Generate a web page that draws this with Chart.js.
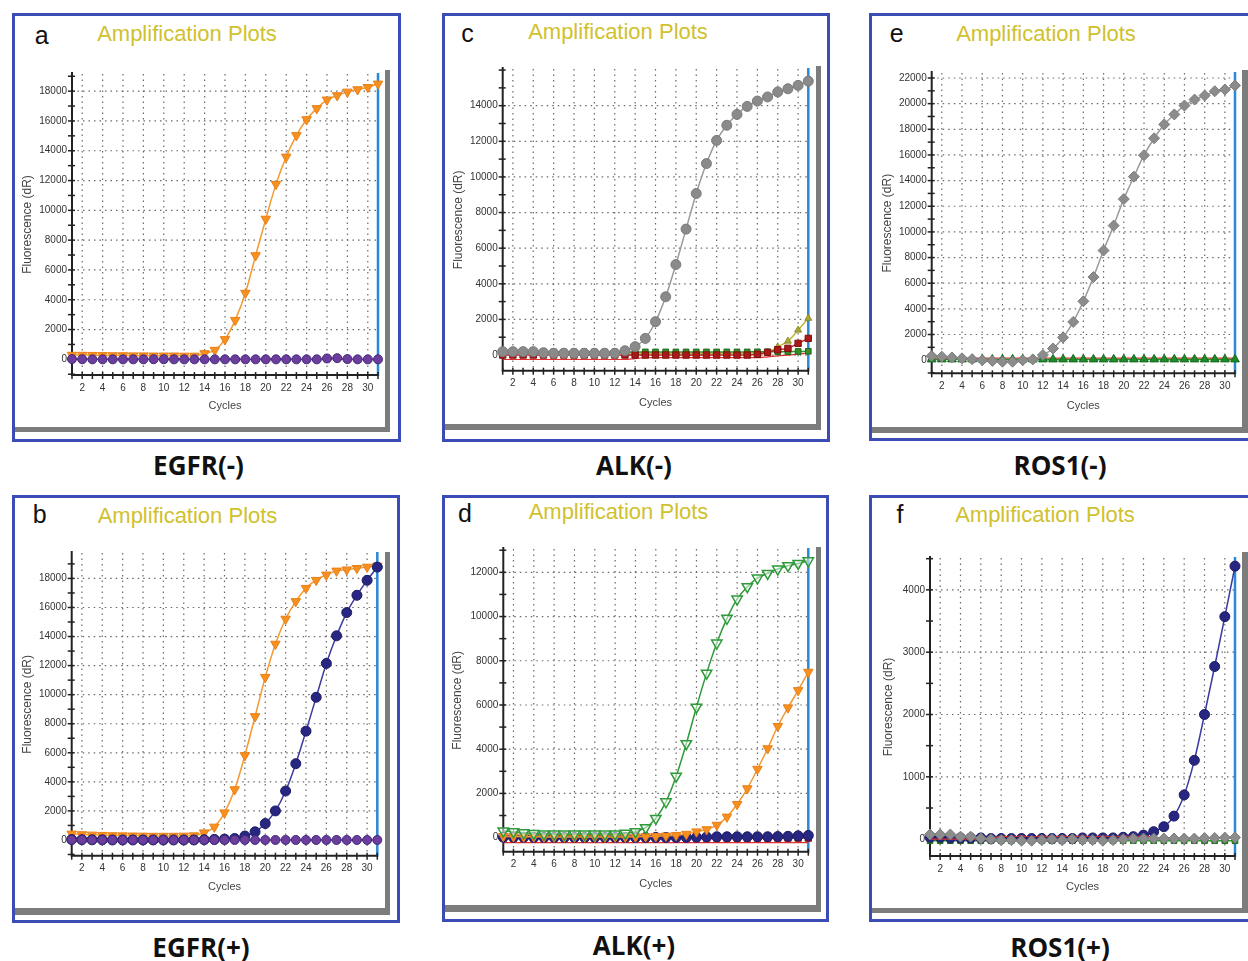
<!DOCTYPE html>
<html><head><meta charset="utf-8">
<script src="https://cdn.jsdelivr.net/npm/chart.js@4.4.1/dist/chart.umd.min.js"></script>
<style>
body{margin:0;background:#fff;}
#root{position:relative;width:1248px;height:961px;overflow:hidden;background:#fff;font-family:"Liberation Sans",Arial,sans-serif;}
.frame{position:absolute;border:3px solid #3b4db5;box-sizing:border-box;}
.shadow{position:absolute;background:#7c7c7c;}
.letter{position:absolute;font-size:25px;color:#111;line-height:1;transform:translate(-50%,-50%);}
.ttl{position:absolute;font-size:22px;color:#d0c12e;white-space:nowrap;transform:translate(-50%,-50%);line-height:1;}
.cap{position:absolute;font-family:"Open Sans",sans-serif;font-weight:700;font-size:26px;color:#111;transform:translate(-50%,-50%);white-space:nowrap;line-height:1;}
canvas{position:absolute;}
</style></head>
<body><div id="root"></div>
<script>
// ---------------- DATA ----------------
const cycles = [1,2,3,4,5,6,7,8,9,10,11,12,13,14,15,16,17,18,19,20,21,22,23,24,25,26,27,28,29,30,31];
const xTickLabels = [2,4,6,8,10,12,14,16,18,20,22,24,26,28,30];

// a  EGFR(-)
const egfrNegOrange = [290,290,280,270,260,260,250,250,240,240,240,230,230,400,620,1340,2630,4450,6970,9420,11760,13590,15030,16100,16840,17420,17710,17950,18110,18260,18490];
const egfrNegPurple = [20,10,0,0,0,0,0,0,10,10,0,0,0,0,0,0,0,0,0,0,0,0,0,0,0,60,80,20,0,0,0];
const yLabelsA = [0,2000,4000,6000,8000,10000,12000,14000,16000,18000];

// b  EGFR(+)
const egfrPosOrange = [420,380,350,330,310,300,290,280,270,270,270,280,300,500,900,1880,3470,5820,8500,11200,13490,15210,16420,17330,17880,18250,18520,18600,18700,18790,18860];
const egfrPosNavy = [30,20,10,10,0,0,0,0,0,0,0,0,0,20,40,60,100,270,560,1130,2000,3370,5250,7490,9820,12150,14050,15650,16840,17870,18780];
const egfrPosPurple = [10,10,0,0,0,0,0,0,0,0,0,0,0,0,0,0,0,0,0,0,0,0,0,0,0,0,0,0,0,0,0];
const yLabelsB = [0,2000,4000,6000,8000,10000,12000,14000,16000,18000];

// c  ALK(-)
const alkNegGray = [190,190,190,190,130,100,100,100,100,100,100,100,240,470,935,1870,3270,5080,7070,9070,10750,12050,12900,13510,13960,14260,14490,14770,14950,15140,15380];
const alkNegOlive = [100,100,100,100,100,100,100,100,100,100,100,100,100,100,100,100,100,100,100,100,100,100,100,100,110,120,150,465,780,1400,2060];
const alkNegDarkRed = [0,0,0,0,0,0,0,0,0,0,0,0,0,0,0,0,0,0,0,0,0,0,0,0,0,40,150,300,375,655,935];
const alkNegGreen = [190,185,185,180,180,180,175,175,175,175,175,175,175,175,175,175,175,175,175,175,175,175,175,175,175,180,180,185,190,200,210];
const alkNegRed = [-250,-250,-250,-250,-250,-250,-250,-250,-250,-250,-250,-250,-250,-200,-150,-150,-150,-150,-150,-150,-150,-150,-150,-150,-150,-150,-100,-50,0,50,100];
const yLabelsC = [0,2000,4000,6000,8000,10000,12000,14000];

// d  ALK(+)
const alkPosGreen = [300,270,220,190,170,160,160,160,160,160,160,170,200,270,450,870,1620,2780,4250,5900,7440,8800,9920,10790,11350,11740,11950,12150,12300,12400,12520];
const alkPosOrange = [60,50,40,40,30,30,30,30,30,30,30,30,30,40,50,60,80,110,160,270,370,570,940,1510,2220,3100,4030,5040,5880,6660,7490];
const alkPosNavy = [20,20,20,10,10,10,10,10,10,10,10,10,10,10,10,10,10,10,10,20,30,40,40,40,40,40,40,50,60,80,100];
const alkPosDarkRed = [-20,-20,-20,-20,-20,-20,-20,-20,-20,-20,-20,-20,-20,-20,-20,-20,-20,-20,-20,-20,-20,-20,-20,-20,-20,-20,-20,-20,-20,-20,-20];
const alkPosRed = [-230,-230,-230,-230,-230,-230,-230,-230,-230,-230,-230,-230,-230,-230,-230,-230,-230,-230,-230,-230,-230,-230,-230,-230,-230,-230,-230,-230,-230,-230,-230];
const yLabelsD = [0,2000,4000,6000,8000,10000,12000];

// e  ROS1(-)
const rosNegGray = [320,270,210,140,80,0,-60,-120,-120,0,60,400,910,1770,2980,4590,6480,8550,10490,12560,14310,15980,17300,18380,19160,19850,20320,20630,20970,21100,21410];
const rosNegGreen = [60,60,60,60,60,60,60,60,60,60,60,60,60,60,60,60,60,60,60,60,60,60,60,60,60,60,60,60,60,60,60];
const rosNegRed = [160,160,160,160,160,160,160,160,160,160,160,160,160,160,160,160,160,160,160,160,160,160,160,160,160,160,160,160,160,160,160];
const yLabelsE = [0,2000,4000,6000,8000,10000,12000,14000,16000,18000,20000,22000];

// f  ROS1(+)
const rosPosNavy = [30,30,20,20,20,20,10,10,10,10,10,10,10,10,10,20,20,20,20,30,40,65,120,200,370,710,1265,2000,2770,3570,4380];
const rosPosGray = [75,75,75,40,40,12,0,-15,-15,-25,-25,-15,0,-15,0,-15,-15,-25,-15,0,10,10,10,10,10,10,10,20,20,25,28];
const rosPosGreen = [-25,-25,-25,-25,-25,-25,-25,-25,-25,-25,-25,-25,-25,-25,-25,-25,-25,-25,-25,-25,-25,-25,-25,-25,-25,-25,-25,-25,-25,-25,-25];
const rosPosRed = [0,0,0,0,0,0,0,50,30,55,30,55,30,55,30,55,30,55,30,55,30,55,30,20,20,20,20,20,20,20,20];
const yLabelsF = [0,1000,2000,3000,4000];

// ---------------- STYLES ----------------
const ORANGE = {borderColor:'#f39a30', pointBackgroundColor:'#f7901e', pointBorderColor:'#e8801a', pointStyle:'triangle', pointRotation:180, pointRadius:5.5};
const PURPLE = {borderColor:'#7a48a8', pointBackgroundColor:'#6d3d9e', pointBorderColor:'#3f2a78', pointStyle:'circle', pointRadius:4.5};
const NAVY = {borderColor:'#3d3aa0', pointBackgroundColor:'#272782', pointBorderColor:'#1b1a66', pointStyle:'circle', pointRadius:5};
const GRAYC = {borderColor:'#9a9a9a', pointBackgroundColor:'#8a8a8a', pointBorderColor:'#7a7a7a', pointStyle:'circle', pointRadius:5};
const GRAYD = {borderColor:'#9a9a9a', pointBackgroundColor:'#8c8c8c', pointBorderColor:'#7c7c7c', pointStyle:'rectRot', pointRadius:5.5};
const GREENOPEN = {borderColor:'#2f9a3a', pointBackgroundColor:'rgba(255,255,255,0.5)', pointBorderColor:'#2f9a3a', pointStyle:'triangle', pointRotation:180, pointRadius:6, pointBorderWidth:1.5};
const OLIVE = {borderColor:'#c2b53a', pointBackgroundColor:'#a9a838', pointBorderColor:'#8f8e2a', pointStyle:'triangle', pointRadius:4};
const DARKRED = {borderColor:'#c22424', pointBackgroundColor:'#a81a1a', pointBorderColor:'#801010', pointStyle:'rect', pointRadius:4.5};
const GREENSQ = {borderColor:'#2a9a2a', pointBackgroundColor:'#3a8a2a', pointBorderColor:'#1e6a1e', pointStyle:'rect', pointRadius:4};
const GREENTRI = {borderColor:'#25902a', pointBackgroundColor:'#1e8a2a', pointBorderColor:'#146a1e', pointStyle:'triangle', pointRadius:5};
const REDLINE = {borderColor:'#e03030', pointRadius:0, borderWidth:1.2};

function ds(values, st){
  return Object.assign({
    data: cycles.map((c,i)=>({x:c, y:values[i]})),
    borderWidth:1.5, pointRadius:4.5, pointBorderWidth:1,
    cubicInterpolationMode:'monotone', clip:false, fill:false
  }, st);
}

// ---------------- LAYOUT ----------------
const panels = [
  {frame:[12,13,401,442], shR:[385,70,5,362], shB:[15,427,375,5], letter:['a',41.7,34.6], title:[187,34.1], cap:['EGFR(-)',198.5,465],
   plot:[72,73,378,375], yT:27, xT:406, y:[-1050,19150], minor:1000, labels:yLabelsA,
   sets:[ds(egfrNegPurple,PURPLE), ds(egfrNegOrange,ORANGE)]},
  {frame:[12,495,400,923], shR:[385,552,5,363], shB:[15,908,375,7], letter:['b',39.7,514.3], title:[187.5,515.7], cap:['EGFR(+)',201,946.6],
   plot:[71.7,551.7,377.3,855.7], yT:26.7, xT:887.3, y:[-1083,19750], minor:1000, labels:yLabelsB,
   sets:[ds(egfrPosPurple,PURPLE), ds(egfrPosNavy,NAVY), ds(egfrPosOrange,ORANGE)]},
  {frame:[442,13,830,442], shR:[816,66,5,364], shB:[445,424,376,6], letter:['c',467.5,33], title:[618,31.7], cap:['ALK(-)',634,465],
   plot:[502.7,68.3,808.3,370.7], yT:458.3, xT:403.3, y:[-880,16060], minor:1000, labels:yLabelsC,
   sets:[ds(alkNegGray,GRAYC), ds(alkNegDarkRed,DARKRED), ds(alkNegGreen,GREENSQ), ds(alkNegOlive,OLIVE), ds(alkNegRed,REDLINE)]},
  {frame:[442,495,829,922], shR:[816,547,5,365], shB:[445,905,376,7], letter:['d',465,513], title:[618.5,512.4], cap:['ALK(+)',634,945],
   plot:[503.3,548.3,808.3,851.7], yT:456.7, xT:884.3, y:[-636,13055], minor:1000, labels:yLabelsD,
   sets:[ds(alkPosGreen,GREENOPEN), ds(alkPosOrange,ORANGE), ds(alkPosNavy,NAVY), ds(alkPosDarkRed,DARKRED), ds(alkPosRed,REDLINE)]},
  {frame:[869,13,1262,441], shR:[1242,70,6,363], shB:[872,427,376,6], letter:['e',896.7,33], title:[1046,34.1], cap:['ROS1(-)',1060,465],
   plot:[931.7,71.7,1235,373.3], yT:886.7, xT:406, y:[-1025,22390], minor:1000, labels:yLabelsE,
   sets:[ds(rosNegGray,GRAYD), ds(rosNegGreen,GREENTRI), ds(rosNegRed,REDLINE)]},
  {frame:[869,495,1262,922], shR:[1242,552,6,361], shB:[872,908,376,5], letter:['f',900,514], title:[1045,515.1], cap:['ROS1(+)',1060,946.6],
   plot:[930,557.3,1235,856], yT:888.3, xT:887.3, y:[-270,4511], minor:500, labels:yLabelsF,
   sets:[ds(rosPosGray,GRAYD), ds(rosPosRed,REDLINE), ds(rosPosNavy,NAVY), ds(rosPosGreen,GREENSQ)]}
];

const root = document.getElementById('root');
function box(cls, l, t, w, h){ const d=document.createElement('div'); d.className=cls; d.style.left=l+'px'; d.style.top=t+'px'; if(w!=null){d.style.width=w+'px'; d.style.height=h+'px';} root.appendChild(d); return d; }

const deco = {
  id:'deco',
  beforeDatasetsDraw(chart, args, o){
    const {ctx, chartArea:{left,right,top,bottom}, scales:{x,y}} = chart;
    ctx.save();
    // dotted grid
    ctx.strokeStyle = '#6a6a6a'; ctx.lineWidth = 1.2; ctx.setLineDash([1.5,4]);
    xTickLabels.forEach(v=>{ const px=x.getPixelForValue(v); ctx.beginPath(); ctx.moveTo(px,top); ctx.lineTo(px,bottom); ctx.stroke(); });
    o.labels.forEach(v=>{ const py=y.getPixelForValue(v); ctx.beginPath(); ctx.moveTo(left,py); ctx.lineTo(right,py); ctx.stroke(); });
    ctx.setLineDash([]);
    // blue end line
    const bx = x.getPixelForValue(31);
    ctx.strokeStyle='#2a88d8'; ctx.lineWidth=2.5;
    ctx.beginPath(); ctx.moveTo(bx, top-1); ctx.lineTo(bx, bottom+1); ctx.stroke();
    // axes
    ctx.strokeStyle='#222'; ctx.lineWidth=2;
    ctx.beginPath(); ctx.moveTo(left, top-2); ctx.lineTo(left, bottom+1); ctx.moveTo(left, bottom); ctx.lineTo(right, bottom); ctx.stroke();
    // tick marks crossing the axes
    ctx.lineWidth=1.5;
    cycles.forEach(v=>{ const px=x.getPixelForValue(v); ctx.beginPath(); ctx.moveTo(px,bottom-3); ctx.lineTo(px,bottom+4); ctx.stroke(); });
    y.ticks.forEach(t=>{ const py=y.getPixelForValue(t.value); if(py<top-1||py>bottom) return; ctx.beginPath(); ctx.moveTo(left-4,py); ctx.lineTo(left+3,py); ctx.stroke(); });
    ctx.restore();
  }
};

panels.forEach(p=>{
  const [fl,ft,fr,fb] = p.frame;
  box('frame', fl, ft, fr-fl, fb-ft);
  box('shadow', p.shR[0], p.shR[1], p.shR[2], p.shR[3]);
  box('shadow', p.shB[0], p.shB[1], p.shB[2], p.shB[3]);
  const le = box('letter', p.letter[1], p.letter[2]); le.textContent = p.letter[0];
  const ti = box('ttl', p.title[0], p.title[1]); ti.textContent = 'Amplification Plots';
  const ca = box('cap', p.cap[1], p.cap[2]); ca.textContent = p.cap[0];

  const [L,T,R,B] = p.plot;
  const cl = Math.round(p.yT - 7.2), ct = Math.round(T - 10), cr = Math.round(R + 14), cb = Math.round(p.xT + 6.6);
  const cv = document.createElement('canvas');
  cv.width = cr-cl; cv.height = cb-ct;
  cv.style.left = cl+'px'; cv.style.top = ct+'px';
  cv.style.width = (cr-cl)+'px'; cv.style.height = (cb-ct)+'px';
  root.appendChild(cv);
  const yW = L - cl, xH = cb - B, padTop = T - ct, padRight = cr - R;
  const minorVals = [];
  for (let v = Math.ceil(p.y[0]/p.minor)*p.minor; v <= p.y[1]; v += p.minor) minorVals.push(v);

  new Chart(cv, {
    type:'line',
    data:{datasets:p.sets},
    options:{
      responsive:false, animation:false, devicePixelRatio:1,
      layout:{padding:{left:0, top:padTop, right:padRight, bottom:0}},
      plugins:{legend:{display:false}, tooltip:{enabled:false}, deco:{labels:p.labels}},
      scales:{
        x:{type:'linear', min:1, max:31,
           afterFit:s=>{s.height=xH;},
           afterBuildTicks:s=>{s.ticks=cycles.map(v=>({value:v}));},
           grid:{display:false, drawTicks:false}, border:{display:false},
           ticks:{autoSkip:false, maxRotation:0, padding:7, color:'#333', font:{family:'Liberation Sans', size:10},
                  callback:v=> xTickLabels.includes(v) ? String(v) : ''},
           title:{display:true, text:'Cycles', color:'#444', padding:0, font:{family:'Liberation Sans', size:11}}},
        y:{type:'linear', min:p.y[0], max:p.y[1],
           afterFit:s=>{s.width=yW;},
           afterBuildTicks:s=>{s.ticks=minorVals.map(v=>({value:v}));},
           grid:{display:false, drawTicks:false}, border:{display:false},
           ticks:{autoSkip:false, padding:5, color:'#333', font:{family:'Liberation Sans', size:10},
                  callback:v=> p.labels.includes(v) ? String(v) : ''},
           title:{display:true, text:'Fluorescence (dR)', color:'#444', padding:0, font:{family:'Liberation Sans', size:12}}}
      }
    },
    plugins:[deco]
  });
});
</script>
</body></html>
